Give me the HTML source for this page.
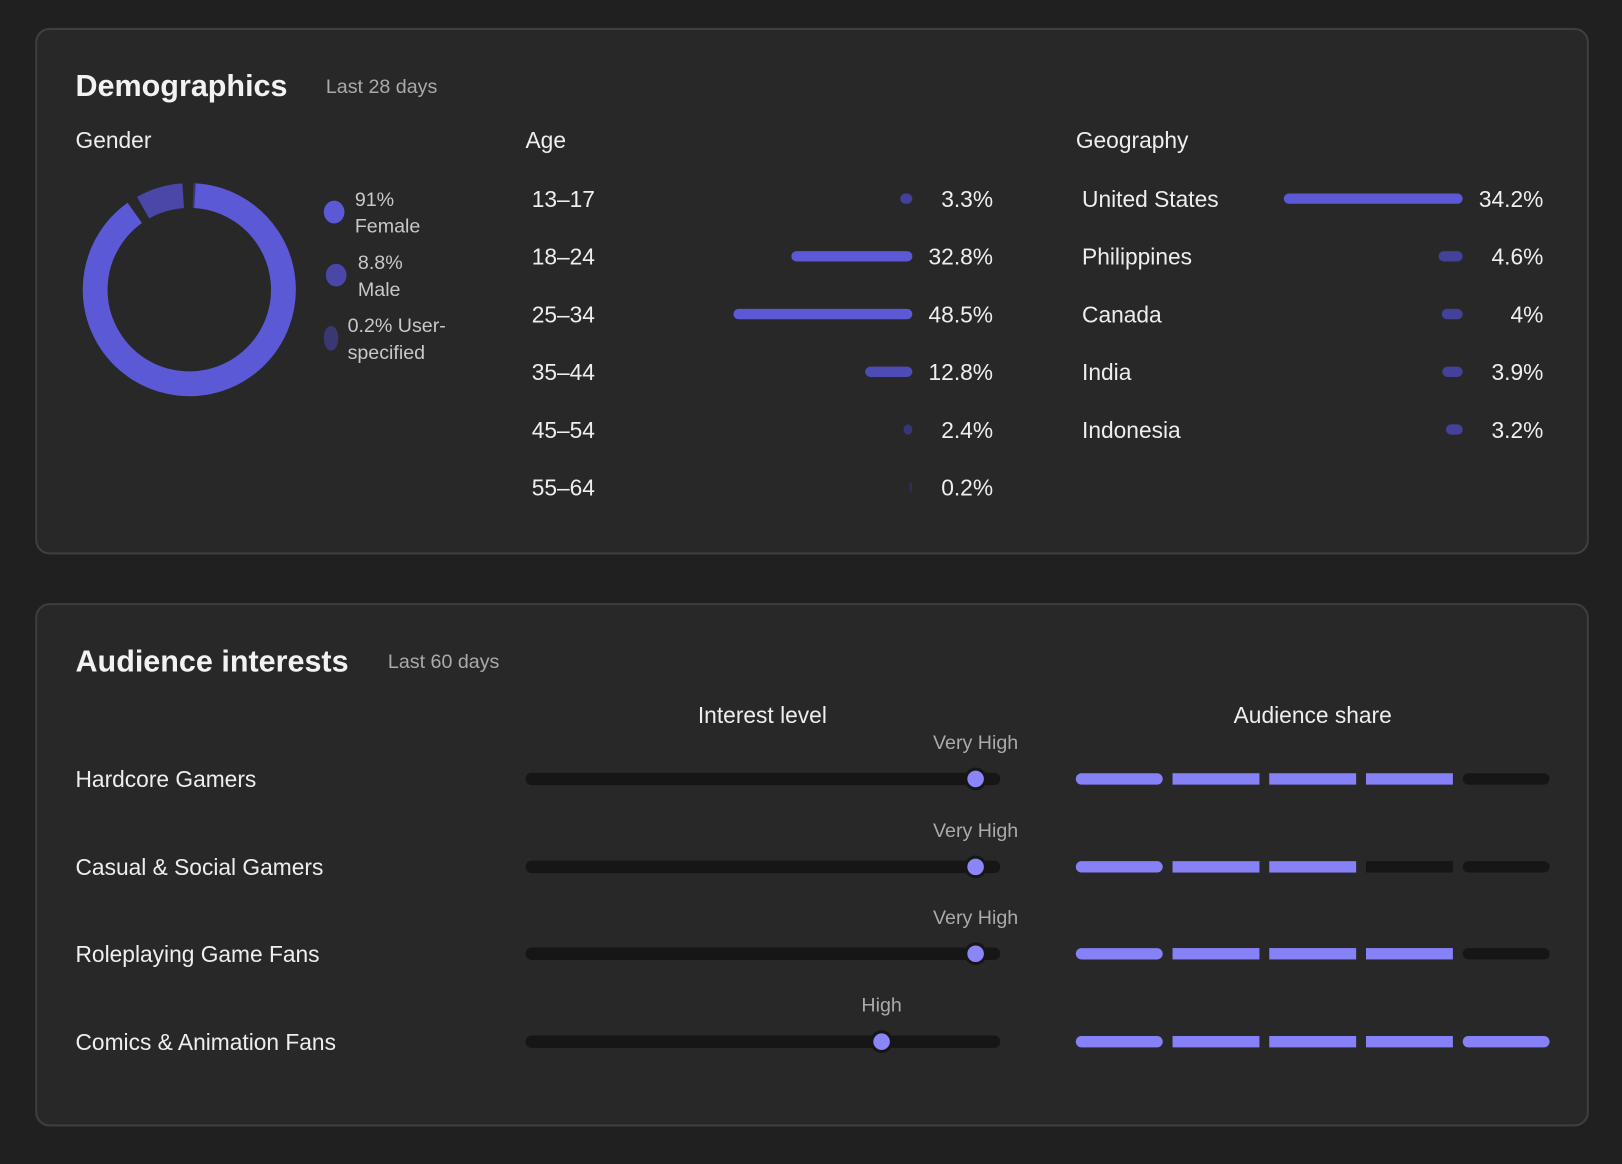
<!DOCTYPE html>
<html><head><meta charset="utf-8"><style>
html,body{margin:0;padding:0;background:#202020;width:1622px;height:1164px;overflow:hidden}
#wrap{position:absolute;left:0;top:0;width:1568px;height:1125px;transform:scale(1.03444);transform-origin:0 0;font-family:"Liberation Sans",sans-serif;color:#eee}
.card{position:absolute;left:34px;width:1502px;background:#282828;border:2px solid #3e3e3e;border-radius:14px;box-sizing:border-box}
.t{position:absolute;white-space:nowrap}
</style></head><body>
<div id="wrap">
<div class="card" style="top:27px;height:509px"></div>
<div class="card" style="top:583px;height:506px"></div>
<div class="t" style="left:73px;top:67px;font-size:29.5px;font-weight:bold;color:#f2f2f2">Demographics</div>
<div class="t" style="left:315px;top:74px;font-size:19px;color:#aaa">Last 28 days</div>
<div class="t" style="left:73px;top:123px;font-size:22px">Gender</div>
<div class="t" style="left:508px;top:123px;font-size:22px">Age</div>
<div class="t" style="left:1040px;top:123px;font-size:22px">Geography</div>
<div class="t" style="left:73px;top:623px;font-size:29.5px;font-weight:bold;color:#f2f2f2">Audience interests</div>
<div class="t" style="left:375px;top:630px;font-size:19px;color:#aaa">Last 60 days</div>
<div class="t" style="left:637px;width:200px;text-align:center;top:679px;font-size:22px">Interest level</div>
<div class="t" style="left:1169px;width:200px;text-align:center;top:679px;font-size:22px">Audience share</div>
<svg id="svg" width="1568" height="1125" style="position:absolute;left:0;top:0"></svg>
</div>
<script>
const genderLabels=["Female","Male","User-specified"];
const genderValues=[91,8.8,0.2];
const ageLabels=["13–17","18–24","25–34","35–44","45–54","55–64"];
const ageValues=[3.3,32.8,48.5,12.8,2.4,0.2];
const geoLabels=["United States","Philippines","Canada","India","Indonesia"];
const geoValues=[34.2,4.6,4,3.9,3.2];
const interestLabels=["Hardcore Gamers","Casual & Social Gamers","Roleplaying Game Fans","Comics & Animation Fans"];
const interestLevels=["Very High","Very High","Very High","High"];
const shareSegments=[4,3,4,5];
const levelScale={"Low":0.25,"Medium":0.5,"High":0.75,"Very High":0.948};

const svg=document.getElementById('svg');
const NS='http://www.w3.org/2000/svg';
function mk(tag,attrs,parent){const e=document.createElementNS(NS,tag);for(const k in attrs)e.setAttribute(k,attrs[k]);(parent||svg).appendChild(e);return e;}
function txt(x,y,s,size,fill,anchor){const e=mk('text',{x:x,y:y,'font-size':size,fill:fill,'text-anchor':anchor||'start','font-family':'Liberation Sans, sans-serif'});e.textContent=s;return e;}

const cx=183,cy=280,r=91,sw=24,gap=6;
const gColors=["#5b59d6","#4a47a8","#3a3872"];
const total=genderValues.reduce((a,b)=>a+b,0);
let ang=3;
function pt(a){const rad=(a-90)*Math.PI/180;return [cx+r*Math.cos(rad),cy+r*Math.sin(rad)];}
genderValues.forEach((v,i)=>{
  const span=Math.max(v/total*360-gap,1.2);
  const a0=ang,a1=ang+span;
  const p0=pt(a0),p1=pt(a1);
  const p=mk('path',{d:`M${p0[0]} ${p0[1]} A${r} ${r} 0 ${span>180?1:0} 1 ${p1[0]} ${p1[1]}`,stroke:gColors[i],'stroke-width':sw,fill:'none'});
  
  
  ang+=v/total*360;
});
const legY=[205,266,327];
genderValues.forEach((v,i)=>{
  const el=mk('ellipse',{cx:i==2?320:(i==0?323:325),cy:legY[i],rx:i==2?7:10,ry:i==2?12:11,fill:gColors[i]});
  
  
  const lx=i==0?343:(i==1?346:336);
  if(i<2){
    const a=txt(lx,legY[i]-6,v+"%",19,'#c8c8c8');
    const b=txt(lx,legY[i]+20,genderLabels[i],19,'#c8c8c8');
  }else{
    const a=txt(lx,legY[i]-6,v+"% User-",19,'#c8c8c8');
    const b=txt(lx,legY[i]+20,"specified",19,'#c8c8c8');
  }
});

function barColor(v){return v>=20?"#5b59d6":v>=8?"#4d4bb5":v>=3?"#43419a":v>=1?"#38367a":"#2f2e55";}
const ageY0=192,ageStep=55.8,ageEnd=882,ageK=173/48.5;
ageValues.forEach((v,i)=>{
  const y=ageY0+i*ageStep;
  const l=txt(514,y+8,ageLabels[i],22,'#eee');
  const w=Math.max(v*ageK,3);
  const b=mk('rect',{x:ageEnd-w,y:y-5,width:w,height:10,rx:5,fill:barColor(v)});
  
  
  const t=txt(960,y+8,v+"%",22,'#eee','end');
});
const geoEnd=1414,geoK=173/34.2;
geoValues.forEach((v,i)=>{
  const y=ageY0+i*ageStep;
  const l=txt(1046,y+8,geoLabels[i],22,'#eee');
  const w=v*geoK;
  const b=mk('rect',{x:geoEnd-w,y:y-5,width:w,height:10,rx:5,fill:barColor(v*1.4)});
  
  
  const t=txt(1492,y+8,v+"%",22,'#eee','end');
});
const intY=[753,838,922,1007];
const trackX0=508,trackX1=967;
const segX0=1040,segW=84,segGap=9.5,segN=5;
interestLabels.forEach((lab,i)=>{
  const y=intY[i];
  const l=txt(73,y+8,lab,22,'#eee');
  const tr=mk('rect',{x:trackX0,y:y-6,width:trackX1-trackX0,height:12,rx:6,fill:'#161616'});
  
  
  const tx=trackX0+levelScale[interestLevels[i]]*(trackX1-trackX0);
  const th=mk('circle',{cx:tx,cy:y,r:9.5,fill:'#8b86f8',stroke:'#161616','stroke-width':3});
  
  
  const lt=txt(tx,y-29,interestLevels[i],19,'#aaa','middle');
  for(let s=0;s<segN;s++){
    const sx=segX0+s*(segW+segGap);
    const seg=mk('rect',{x:sx,y:y-5.5,width:segW,height:11,rx:(s==0||s==segN-1)?5.5:0,fill:s<shareSegments[i]?'#8781f8':'#161616'});
    
    
  }
});
</script>
</body></html>
